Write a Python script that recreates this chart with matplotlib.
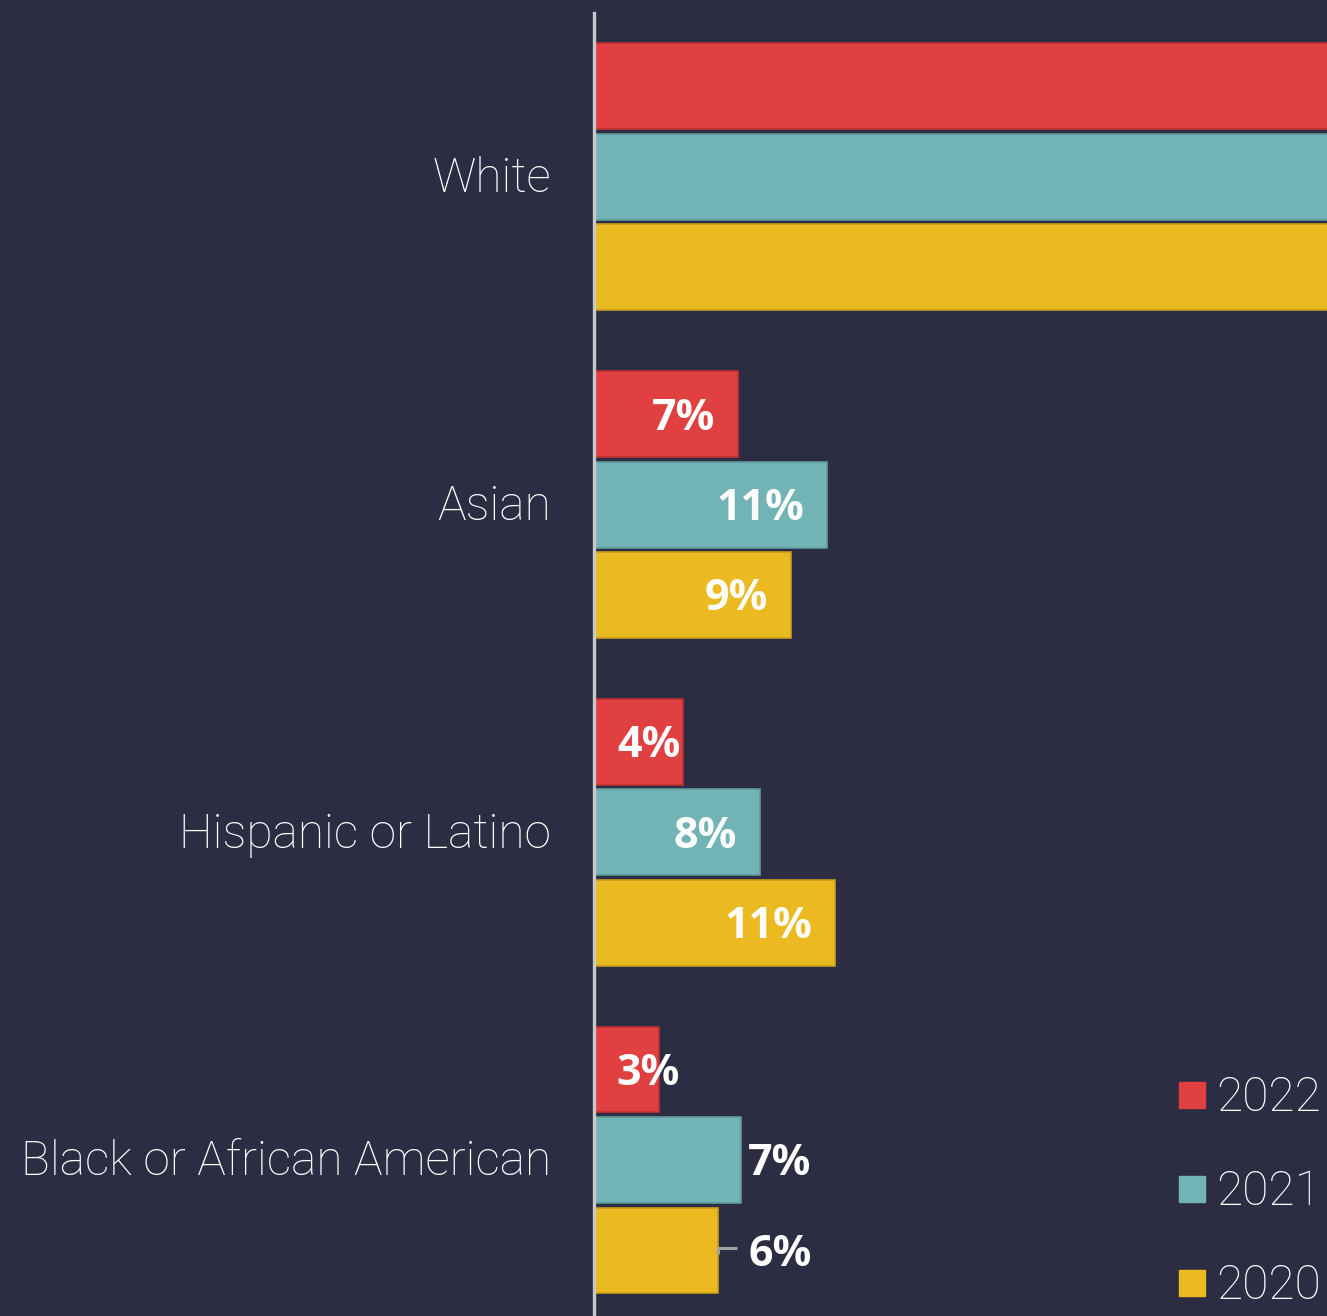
import matplotlib
matplotlib.use("Agg")
import matplotlib.pyplot as plt
from matplotlib.patches import Rectangle
import numpy as np

# data
categories = ["White", "Asian", "Hispanic or Latino", "Black or African American"]
years = ["2022", "2021", "2020"]
v2022 = [68.0, 6.76, 4.18, 3.05]
v2021 = [66.0, 10.94, 7.79, 6.90]
v2020 = [64.0, 9.25, 11.31, 5.82]
labels2022 = ["68%", "7%", "4%", "3%"]
labels2021 = ["66%", "11%", "8%", "7%"]
labels2020 = ["64%", "9%", "11%", "6%"]

colors = ["#e04040", "#72b4b6", "#ebb920"]
edges = ["#c03232", "#5f9a9c", "#c99e18"]
bg = "#2c2c42"

W, H = 1327, 1316
fig = plt.figure(figsize=(W / 100, H / 100), dpi=100, facecolor=bg)
ax = fig.add_axes([594 / W, 0, 1 - 594 / W, (H - 13) / H], facecolor=bg)

y = np.arange(len(categories))
bar_h = 0.262
step = 0.276
series = [v2022, v2021, v2020]
series_labels = [labels2022, labels2021, labels2020]

# labels that sit outside the bar end (cat index, series index)
outside = {(3, 1): "plain", (3, 2): "leader"}

pad = 1.07  # in % units (~23 px)
dy = 0.012  # nudge labels down a little
for i, (vals, labs) in enumerate(zip(series, series_labels)):
    yy = y + (i - 1) * step
    ax.barh(yy, vals, height=bar_h, color=colors[i], edgecolor=edges[i], linewidth=1.2)
    for j, (v, lab) in enumerate(zip(vals, labs)):
        kw = dict(color="white", fontsize=31, fontweight="bold", family=["Open Sans", "DejaVu Sans"],
                  va="center", clip_on=True)
        mode = outside.get((j, i))
        if mode == "plain":
            ax.text(v + 0.33, yy[j] + dy, lab, ha="left", **kw)
        elif mode == "leader":
            ax.plot([v, v, v + 0.88], [yy[j] + 0.012, yy[j] - 0.008, yy[j] - 0.008],
                    color="#a0a0a0", lw=2.2, solid_capstyle="butt")
            ax.text(v + 1.45, yy[j] + dy, lab, ha="left", **kw)
        elif v < 5:
            ax.text(pad, yy[j] + dy, lab, ha="left", **kw)
        else:
            ax.text(v - pad, yy[j] + dy, lab, ha="right", **kw)

ax.set_xlim(0, 733 / 21.3)
ax.set_ylim(3.476, -0.5)
ax.set_yticks(y - 0.008)
ax.set_yticklabels(categories, fontsize=34.5, color="white", family=["Roboto", "DejaVu Sans"],
                   fontweight="light")
ax.tick_params(axis="y", length=0, pad=31)
ax.set_xticks([])
for s in ["top", "right", "bottom"]:
    ax.spines[s].set_visible(False)
ax.spines["left"].set_color("#c8c8c8")
ax.spines["left"].set_linewidth(2.4)
ax.spines["left"].set_zorder(5)

# legend
row_y = [1095, 1189, 1283]
for k, yr in enumerate(years):
    cy = row_y[k]
    fig.patches.append(Rectangle((1179 / W, 1 - (cy + 13) / H), 26 / W, 26 / H,
                                 transform=fig.transFigure, color=colors[k]))
    fig.text(1216 / W, 1 - (cy + 16) / H, yr, fontsize=34.5, color="white",
             family=["Roboto", "DejaVu Sans"], fontweight="light", ha="left", va="baseline")

fig.savefig("out.png", dpi=100, facecolor=bg)
